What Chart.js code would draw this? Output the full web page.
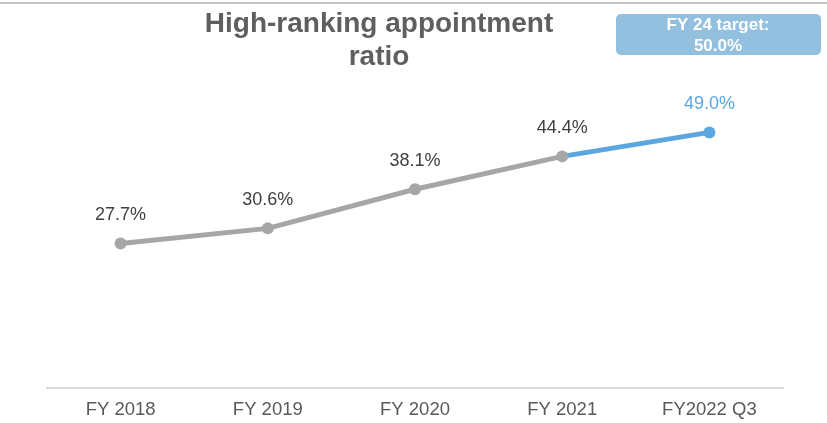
<!DOCTYPE html>
<html>
<head>
<meta charset="utf-8">
<script src="https://cdn.jsdelivr.net/npm/chart.js@4.4.1/dist/chart.umd.min.js"></script>
<style>
  html, body { margin: 0; padding: 0; background: #fff; }
  #wrap { position: relative; width: 827px; height: 423px; }
  #wrap::before { content: ''; position: absolute; left: 0; right: 0; top: 2px; height: 2px; background: #c4c4c4; }
</style>
</head>
<body>
<div id="wrap"><canvas id="chart" width="827" height="423"></canvas></div>
<script>
const labels = ['FY 2018', 'FY 2019', 'FY 2020', 'FY 2021', 'FY2022 Q3'];
const ratios = [27.7, 30.6, 38.1, 44.4, 49.0];
const titleLines = ['High-ranking appointment', 'ratio'];
const targetLines = ['FY 24 target:', '50.0%'];

const gray = '#a6a6a6';
const blue = '#5ba6de';
const lastIdx = ratios.length - 1;
const font = '"Liberation Sans", Arial, sans-serif';

// title, target box and value labels
const decorations = {
    id: 'decorations',
    afterDraw(chart) {
        const ctx = chart.ctx;
        ctx.save();

        ctx.fillStyle = '#5f5f5f';
        ctx.font = 'bold 28px ' + font;
        ctx.textAlign = 'center';
        ctx.textBaseline = 'alphabetic';
        titleLines.forEach((t, i) => ctx.fillText(t, 379, 32 + i * 33));

        ctx.fillStyle = '#92c0de';
        ctx.beginPath();
        ctx.roundRect(616, 14, 205, 41, 5);
        ctx.fill();
        ctx.fillStyle = '#ffffff';
        ctx.font = 'bold 17px ' + font;
        ctx.textBaseline = 'middle';
        targetLines.forEach((t, i) => ctx.fillText(t, 718, 25 + i * 21));

        const meta = chart.getDatasetMeta(0);
        ctx.font = '18px ' + font;
        meta.data.forEach((pt, i) => {
            ctx.fillStyle = i === lastIdx ? blue : '#404040';
            ctx.fillText(ratios[i].toFixed(1) + '%', pt.x, pt.y - 28);
        });
        ctx.restore();
    }
};

new Chart(document.getElementById('chart'), {
    type: 'line',
    data: {
        labels: labels,
        datasets: [{
            data: ratios,
            borderWidth: 5,
            borderColor: gray,
            segment: {
                borderColor: c => c.p1DataIndex === lastIdx ? blue : gray
            },
            pointRadius: 6,
            pointHoverRadius: 6,
            pointBackgroundColor: ratios.map((v, i) => i === lastIdx ? blue : gray),
            pointBorderWidth: 0,
            tension: 0
        }]
    },
    options: {
        responsive: false,
        animation: false,
        layout: { padding: { left: 47, right: 44, top: 75, bottom: 0 } },
        plugins: { legend: { display: false }, tooltip: { enabled: false } },
        scales: {
            x: {
                offset: true,
                afterFit: s => { s.height = 35; },
                grid: { display: false, drawTicks: false },
                border: { color: '#d9d9d9', width: 2 },
                ticks: { color: '#595959', font: { size: 18.5, family: font }, padding: 11 }
            },
            y: {
                display: false,
                min: 0,
                max: 60
            }
        }
    },
    plugins: [decorations]
});
</script>
</body>
</html>
